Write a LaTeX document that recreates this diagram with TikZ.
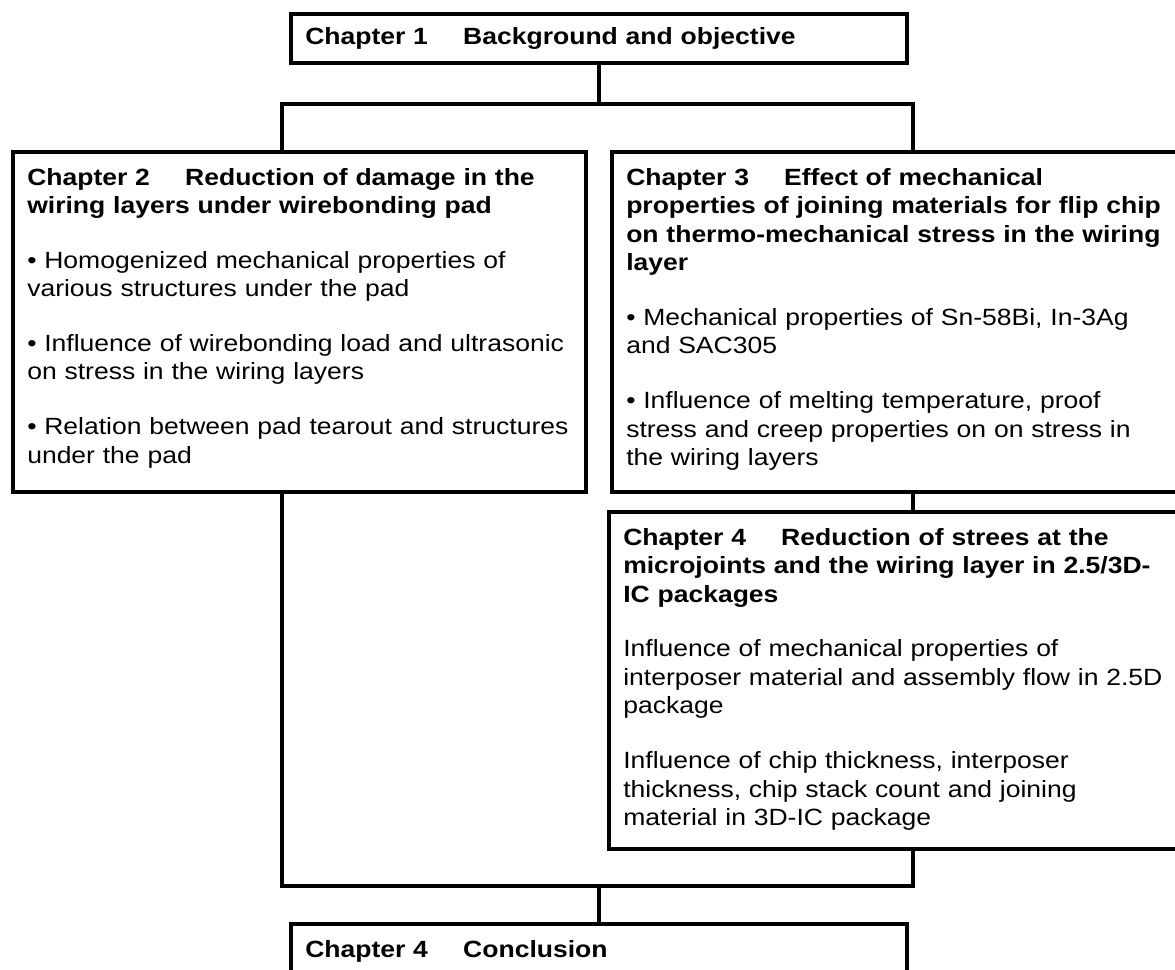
\documentclass[tikz,border=0pt]{standalone}
\usepackage{fontspec}
\setmainfont{Liberation Sans}[FakeStretch=1.13]
\newcommand{\pgap}{\\[19.5pt]}
\newcommand{\cgap}{\hspace{1.5em}}
\begin{document}
\begin{tikzpicture}[x=0.75pt,y=-0.75pt,
  box/.style={draw=black, line width=3pt, rectangle, inner sep=0pt, anchor=north west},
  txt/.style={anchor=north west, inner sep=0pt, align=left, text width=560*0.75pt,
    font=\fontsize{17.6pt}{21.4pt}\selectfont},
  conn/.style={draw=black, line width=3pt}]
\clip (0,0) rectangle (1175,970);
\fill[white] (0,0) rectangle (1175,970);
% boxes
\node[box, minimum width=616*0.75pt, minimum height=49*0.75pt] (ch1) at (289,12) {};
\node[box, minimum width=573*0.75pt, minimum height=340*0.75pt] (ch2) at (11,150) {};
\node[box, minimum width=580*0.75pt, minimum height=340*0.75pt] (ch3) at (610,150) {};
\node[box, minimum width=583*0.75pt, minimum height=337*0.75pt] (ch4) at (607,510) {};
\node[box, minimum width=616*0.75pt, minimum height=78*0.75pt] (ch5) at (289,922) {};
% texts
\node[txt, anchor=west] (t1) at ([shift={(16,0)}]ch1.west)
  {\textbf{Chapter 1\cgap Background and objective}};
\node[txt] (t2) at ([shift={(16,18)}]ch2.north west)
  {\textbf{Chapter 2\cgap Reduction of damage in the}\\
   \textbf{wiring layers under wirebonding pad}\pgap
   • Homogenized mechanical properties of\\
   various structures under the pad\pgap
   • Influence of wirebonding load and ultrasonic\\
   on stress in the wiring layers\pgap
   • Relation between pad tearout and structures\\
   under the pad};
\node[txt] (t3) at ([shift={(16,18)}]ch3.north west)
  {\textbf{Chapter 3\cgap Effect of mechanical}\\
   \textbf{properties of joining materials for flip chip}\\
   \textbf{on thermo-mechanical stress in the wiring}\\
   \textbf{layer}\pgap
   • Mechanical properties of Sn-58Bi, In-3Ag\\
   and SAC305\pgap
   • Influence of melting temperature, proof\\
   stress and creep properties on on stress in\\
   the wiring layers};
\node[txt] (t4) at ([shift={(16,18)}]ch4.north west)
  {\textbf{Chapter 4\cgap Reduction of strees at the}\\
   \textbf{microjoints and the wiring layer in 2.5/3D-}\\
   \textbf{IC packages}\pgap
   Influence of mechanical properties of\\
   interposer material and assembly flow in 2.5D\\
   package\pgap
   Influence of chip thickness, interposer\\
   thickness, chip stack count and joining\\
   material in 3D-IC package};
\node[txt] (t5) at ([shift={(16,18)}]ch5.north west)
  {\textbf{Chapter 4\cgap Conclusion}};
% connectors
\coordinate (L) at (282,104);
\coordinate (R) at (913,104);
\coordinate (BL) at (282,886);
\coordinate (BR) at (913,886);
\draw[conn] (ch1.south) -- (ch1.south |- L);
\draw[conn] (L |- ch2.north) -- (L) -- (R) -- (R |- ch3.north);
\draw[conn] (R |- ch3.south) -- (R |- ch4.north);
\draw[conn] (BL |- ch2.south) -- (BL) -- (BR) -- (BR |- ch4.south);
\draw[conn] (ch5.north) -- (ch5.north |- BL);
\end{tikzpicture}
\end{document}
